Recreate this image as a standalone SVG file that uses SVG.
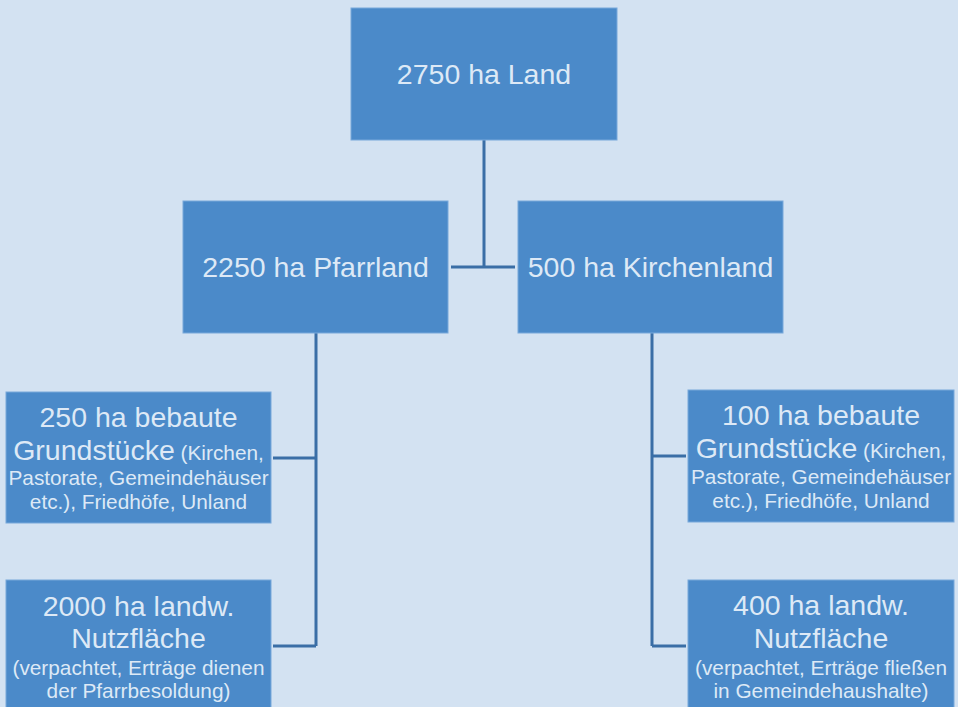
<svg xmlns="http://www.w3.org/2000/svg" width="958" height="707" viewBox="0 0 958 707">
<style>
.box{fill:#4b8ac9;stroke:#79a8da;stroke-width:1}
.t{font-family:"Liberation Sans",Arial,sans-serif;fill:#dde9f6;text-anchor:middle}
.big{font-size:28.5px}
.sm{font-size:20.8px}
.con{fill:none;stroke:#3a6ea6;stroke-width:3}
</style>
<rect x="0" y="0" width="958" height="707" fill="#d3e2f2"/>
<g id="connectors">
<path class="con" d="M484 140 V267 M451 267 H515"/>
<path class="con" d="M316 333 V646 M273 458 H316 M273 646 H316"/>
<path class="con" d="M652 333 V646 M652 456 H686 M652 646 H686"/>
</g>
<g id="n-land">
<rect class="box" x="351" y="8" width="266" height="132"/>
<text class="t big" x="484" y="84">2750 ha Land</text>
</g>
<g id="n-pfarrland">
<rect class="box" x="183" y="201" width="265" height="132"/>
<text class="t big" x="315.5" y="277">2250 ha Pfarrland</text>
</g>
<g id="n-kirchenland">
<rect class="box" x="518" y="201" width="265" height="132"/>
<text class="t big" x="650.5" y="277">500 ha Kirchenland</text>
</g>
<g id="n-bebaut-pfarr">
<rect class="box" x="6" y="392" width="265" height="131"/>
<text class="t big" x="138.5" y="427">250 ha bebaute</text>
<text class="t" x="138.5" y="460"><tspan class="big">Grundstücke</tspan><tspan class="sm"> (Kirchen,</tspan></text>
<text class="t sm" x="138.5" y="485">Pastorate, Gemeindehäuser</text>
<text class="t sm" x="138.5" y="509">etc.), Friedhöfe, Unland</text>
</g>
<g id="n-nutz-pfarr">
<rect class="box" x="6" y="580" width="265" height="135"/>
<text class="t big" x="138.5" y="616">2000 ha landw.</text>
<text class="t big" x="138.5" y="648">Nutzfläche</text>
<text class="t sm" x="138.5" y="675">(verpachtet, Erträge dienen</text>
<text class="t sm" x="138.5" y="698">der Pfarrbesoldung)</text>
</g>
<g id="n-bebaut-kirche">
<rect class="box" x="688" y="390" width="266" height="132"/>
<text class="t big" x="821" y="425">100 ha bebaute</text>
<text class="t" x="821" y="458"><tspan class="big">Grundstücke</tspan><tspan class="sm"> (Kirchen,</tspan></text>
<text class="t sm" x="821" y="484">Pastorate, Gemeindehäuser</text>
<text class="t sm" x="821" y="508">etc.), Friedhöfe, Unland</text>
</g>
<g id="n-nutz-kirche">
<rect class="box" x="688" y="580" width="266" height="135"/>
<text class="t big" x="821" y="615">400 ha landw.</text>
<text class="t big" x="821" y="648">Nutzfläche</text>
<text class="t sm" x="821" y="675">(verpachtet, Erträge fließen</text>
<text class="t sm" x="821" y="698">in Gemeindehaushalte)</text>
</g>
</svg>
